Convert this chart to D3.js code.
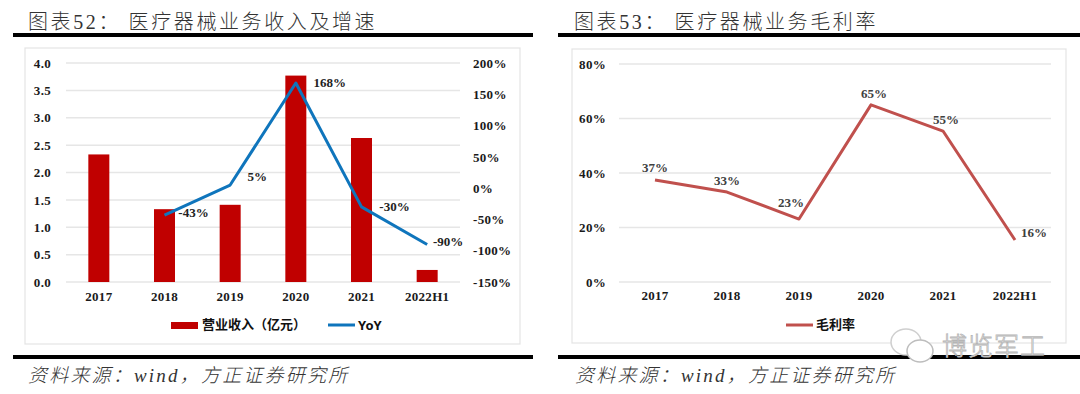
<!DOCTYPE html>
<html lang="zh">
<head>
    <meta charset="UTF-8">
    <title>医疗器械业务收入及增速 / 毛利率</title>
    <script src="https://d3js.org/d3.v7.min.js"></script>
    <style>
        body { margin: 0; background: #fff; }
        svg { display: block; }
        text { font-family: "Liberation Serif", "Noto Sans CJK SC", serif; }
        .tick text { font-weight: bold; font-size: 13px; fill: #1a1a1a; letter-spacing: 0.3px; }
        .grid line { stroke: #e6e6e6; stroke-width: 1.5px; }
        .title { font-size: 20px; fill: #333; letter-spacing: 2.6px; font-weight: 300; }
        .source { font-size: 19px; fill: #333; font-style: italic; letter-spacing: 2.2px; font-weight: 300; }
        .label { font-weight: bold; font-size: 13px; text-anchor: middle; dominant-baseline: middle; }
        .legend { font-weight: bold; font-size: 13px; fill: #111; dominant-baseline: middle; }
    </style>
</head>
<body>
    <svg width="1080" height="394"></svg>
    <script>
        const categories = ["2017", "2018", "2019", "2020", "2021", "2022H1"];

        // left chart
        const revenue = [2.33, 1.33, 1.41, 3.77, 2.63, 0.22];
        const yoy = [null, -43, 5, 168, -30, -90];
        const yoyLabels = [null, "-43%", "5%", "168%", "-30%", "-90%"];
        const revenueTicks = [0, 0.5, 1, 1.5, 2, 2.5, 3, 3.5, 4];
        const yoyTicks = [-150, -100, -50, 0, 50, 100, 150, 200];

        // right chart
        const margin = [37.4, 33, 23.1, 65, 55.4, 15.4];
        const marginLabels = ["37%", "33%", "23%", "65%", "55%", "16%"];
        const marginTicks = [0, 20, 40, 60, 80];

        const yoyOffsets = [null, [29, -1], [27, -7], [34, 1], [33, 1], [21, -1]];
        const marginOffsets = [[0, -11], [0, -10], [-8, -15], [3, -10], [3, -10], [19, -6]];

        const svg = d3.select("svg");

        function frame(x, y, w, h) {
            svg.append("rect").attr("x", x).attr("y", y).attr("width", w).attr("height", h)
                .attr("fill", "#fff").attr("stroke", "#e4e4e4").attr("stroke-width", 1.2);
        }

        function rule(x1, x2, y) {
            svg.append("rect").attr("x", x1).attr("y", y).attr("width", x2 - x1).attr("height", 4).attr("fill", "#000");
        }

        function heading(x, y, text, cls) {
            svg.append("text").attr("class", cls).attr("x", x).attr("y", y).text(text);
        }

        function categoryAxis(x, y) {
            svg.append("g").attr("transform", `translate(0,${y})`)
                .call(d3.axisBottom(x).tickSize(0).tickPadding(5))
                .call(g => g.select(".domain").remove());
        }

        function gridLines(y, ticks, x1, x2) {
            svg.append("g").attr("class", "grid").selectAll("line")
                .data(ticks)
                .join("line")
                .attr("x1", x1).attr("x2", x2)
                .attr("y1", d => y(d)).attr("y2", d => y(d));
        }

        // ---- left chart ----
        rule(13, 533, 33);
        rule(13, 533, 355);
        heading(28, 29, "图表52：  医疗器械业务收入及增速", "title");
        heading(28, 382, "资料来源：wind，方正证券研究所", "source");
        frame(25, 48, 495, 296);

        const x1 = d3.scaleBand().domain(categories).range([66, 460]);
        const yLeft = d3.scaleLinear().domain([0, 4]).range([282, 63]);
        const yRight = d3.scaleLinear().domain([-150, 200]).range([282, 63]);

        gridLines(yLeft, revenueTicks, 66, 460);

        svg.append("g").selectAll("rect")
            .data(revenue)
            .join("rect")
            .attr("x", (d, i) => x1(categories[i]) + x1.bandwidth() / 2 - 10.5)
            .attr("width", 21)
            .attr("y", d => yLeft(d))
            .attr("height", d => yLeft(0) - yLeft(d))
            .attr("fill", "#c00000");

        const yoyLine = d3.line()
            .defined(d => d !== null)
            .x((d, i) => x1(categories[i]) + x1.bandwidth() / 2)
            .y(d => yRight(d));

        svg.append("path")
            .attr("d", yoyLine(yoy))
            .attr("fill", "none")
            .attr("stroke", "#0f75bc")
            .attr("stroke-width", 3)
            .attr("stroke-linejoin", "round");

        svg.append("g").selectAll("text")
            .data(yoy)
            .join("text")
            .attr("class", "label")
            .attr("fill", "#222")
            .attr("x", (d, i) => d === null ? 0 : x1(categories[i]) + x1.bandwidth() / 2 + yoyOffsets[i][0])
            .attr("y", (d, i) => d === null ? 0 : yRight(d) + yoyOffsets[i][1])
            .text((d, i) => yoyLabels[i]);

        svg.append("g").attr("transform", "translate(51,0)")
            .call(d3.axisLeft(yLeft).tickValues(revenueTicks).tickFormat(d3.format(".1f")).tickSize(0).tickPadding(0))
            .call(g => g.select(".domain").remove());

        svg.append("g").attr("transform", "translate(473,0)")
            .call(d3.axisRight(yRight).tickValues(yoyTicks).tickFormat(d => d + "%").tickSize(0).tickPadding(0))
            .call(g => g.select(".domain").remove());

        categoryAxis(x1, 287);

        svg.append("rect").attr("x", 171).attr("y", 322).attr("width", 27).attr("height", 7).attr("fill", "#c00000");
        svg.append("text").attr("class", "legend").attr("x", 202).attr("y", 326).text("营业收入（亿元）");
        svg.append("line").attr("x1", 328).attr("x2", 355).attr("y1", 325).attr("y2", 325)
            .attr("stroke", "#0f75bc").attr("stroke-width", 3);
        svg.append("text").attr("class", "legend").attr("x", 358).attr("y", 326)
            .style("font-family", "'Noto Sans', sans-serif").text("YoY");

        // ---- right chart ----
        rule(558, 1080, 33);
        rule(558, 1080, 355);
        heading(574, 29, "图表53：  医疗器械业务毛利率", "title");
        heading(575, 382, "资料来源：wind，方正证券研究所", "source");
        frame(572, 49, 494, 294);

        const x2 = d3.scaleBand().domain(categories).range([619, 1051]);
        const yMargin = d3.scaleLinear().domain([0, 80]).range([282, 64]);

        gridLines(yMargin, marginTicks, 619, 1051);

        const marginLine = d3.line()
            .x((d, i) => x2(categories[i]) + x2.bandwidth() / 2)
            .y(d => yMargin(d));

        svg.append("path")
            .attr("d", marginLine(margin))
            .attr("fill", "none")
            .attr("stroke", "#c0504d")
            .attr("stroke-width", 3)
            .attr("stroke-linejoin", "round");

        svg.append("g").selectAll("text")
            .data(margin)
            .join("text")
            .attr("class", "label")
            .attr("fill", "#404040")
            .attr("x", (d, i) => x2(categories[i]) + x2.bandwidth() / 2 + marginOffsets[i][0])
            .attr("y", (d, i) => yMargin(d) + marginOffsets[i][1])
            .text((d, i) => marginLabels[i]);

        svg.append("g").attr("transform", "translate(606,0)")
            .call(d3.axisLeft(yMargin).tickValues(marginTicks).tickFormat(d => d + "%").tickSize(0).tickPadding(0))
            .call(g => g.select(".domain").remove());

        categoryAxis(x2, 286);

        svg.append("line").attr("x1", 786).attr("x2", 813).attr("y1", 325).attr("y2", 325)
            .attr("stroke", "#c0504d").attr("stroke-width", 3);
        svg.append("text").attr("class", "legend").attr("x", 816).attr("y", 326).text("毛利率");

        // ---- watermark ----
        const mark = svg.append("g");
        mark.append("ellipse").attr("cx", 906).attr("cy", 342).attr("rx", 15).attr("ry", 13)
            .attr("fill", "#fff").attr("stroke", "#cfcfcf").attr("stroke-width", 1.5);
        mark.append("ellipse").attr("cx", 920).attr("cy", 351).attr("rx", 13).attr("ry", 11)
            .attr("fill", "#fff").attr("stroke", "#bdbdbd").attr("stroke-width", 1.5);
        mark.append("text").attr("x", 942).attr("y", 355)
            .style("font-family", "'Noto Sans CJK SC', sans-serif")
            .style("font-size", "25px")
            .style("letter-spacing", "1px")
            .style("font-weight", 300)
            .attr("fill", "#fff")
            .attr("stroke", "#b5b5b5")
            .attr("stroke-width", 0.8)
            .text("博览军工");
    </script>
</body>
</html>
